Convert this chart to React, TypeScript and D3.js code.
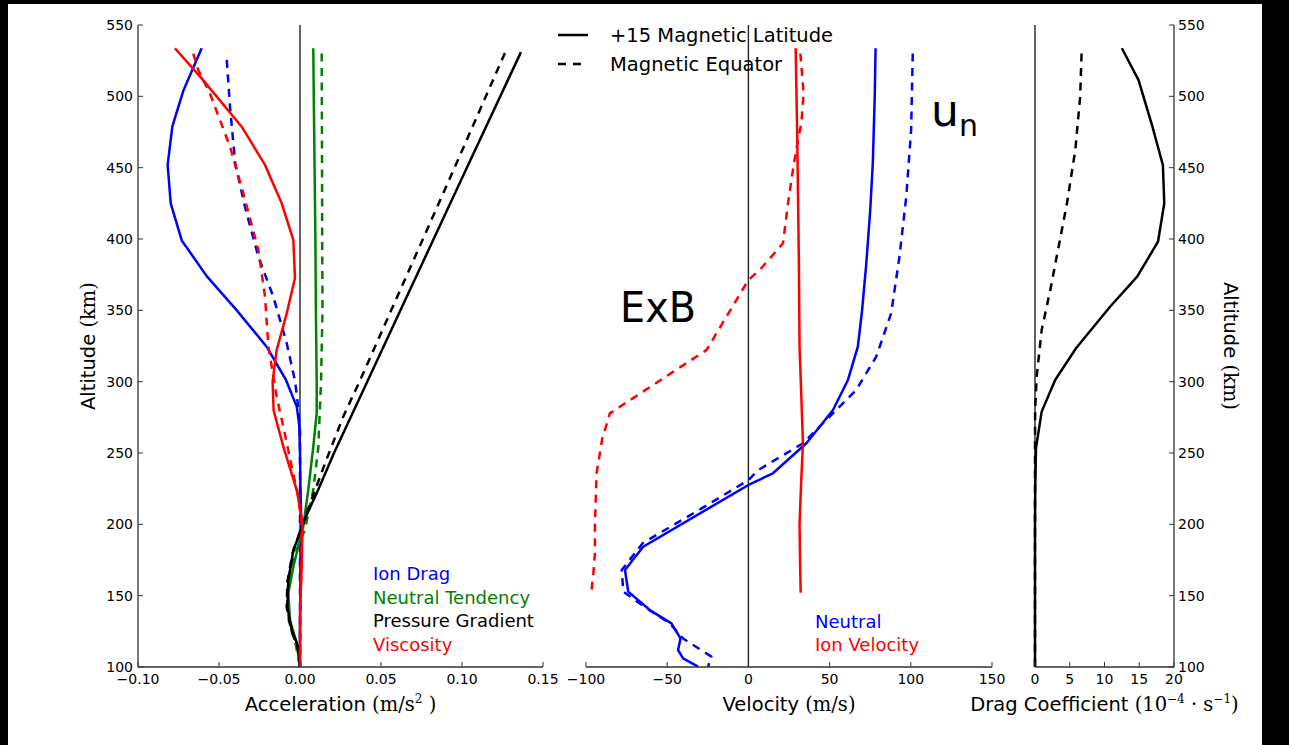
import React from "react";
import * as d3 from "d3";

const W = 1289;
const H = 745;

// ---- data: [altitude km, value] ----
// Acceleration terms (m/s^2)
const ionDragLat: [number, number][] = [
  [533.7, -0.0607], [504, -0.072], [479, -0.0788], [452, -0.0817], [425, -0.0798],
  [399, -0.073], [374, -0.0576], [350, -0.039], [324.5, -0.0206], [301, -0.0086],
  [282.5, -0.002], [270, -0.0005], [250, 0], [225, 0.0003], [200, 0.0008],
  [175, 0.0005], [150, 0.0002], [125, 0], [100, 0],
];
const ionDragEq: [number, number][] = [
  [525.5, -0.0452], [492.7, -0.0432], [453, -0.04], [422.6, -0.034], [387.6, -0.0257],
  [359.6, -0.0165], [327, -0.0082], [300, -0.003], [281, -0.001], [265, 0],
  [200, 0], [150, 0], [100, 0],
];
const neutralTendLat: [number, number][] = [
  [533.7, 0.0082], [500, 0.0085], [450, 0.009], [400, 0.0095], [350, 0.0098],
  [301, 0.0103], [278, 0.0103], [254.4, 0.0082], [224, 0.0051], [198.4, 0.002],
  [185, -0.001], [170.3, -0.0041], [151.7, -0.0072], [132.9, -0.0062], [116.6, -0.002], [100, 0],
];
const neutralTendEq: [number, number][] = [
  [530, 0.0134], [450, 0.0136], [400, 0.0137], [350, 0.0139], [301, 0.013],
  [254, 0.0113], [224, 0.0082], [196, 0.003], [180, -0.003], [165, -0.0065],
  [150, -0.008], [132, -0.0068], [115, -0.0025], [100, 0],
];
const pressureLat: [number, number][] = [
  [531, 0.1364], [450, 0.103], [400, 0.0825], [350, 0.062], [300, 0.0415],
  [278, 0.0325], [250, 0.021], [225, 0.0115], [205, 0.0035], [194, 0],
  [182, -0.0041], [161, -0.0072], [142, -0.0078], [126, -0.0051], [114, -0.001], [100, 0],
];
const pressureEq: [number, number][] = [
  [530.4, 0.1265], [450, 0.0954], [400, 0.0759], [350, 0.0563], [300, 0.0367],
  [275.5, 0.0267], [245, 0.0162], [220, 0.008], [200, 0.0015], [195, 0],
  [180, -0.0045], [160, -0.0078], [142, -0.0082], [126, -0.0055], [114, -0.0015], [100, 0],
];
const viscosityLat: [number, number][] = [
  [533.7, -0.0772], [512.6, -0.0607], [478.7, -0.036], [451.9, -0.0216], [425, -0.0113],
  [399.3, -0.0041], [372.5, -0.0031], [347.9, -0.0082], [322.2, -0.0144], [300, -0.0169],
  [280, -0.0163], [254.4, -0.0103], [224, -0.002], [200.7, 0.0016], [170, 0.001],
  [138, 0], [100, 0],
];
const viscosityEq: [number, number][] = [
  [530, -0.0659], [518.5, -0.0628], [502, -0.0556], [464.7, -0.0432], [432, -0.035],
  [392.3, -0.0257], [359.6, -0.0216], [324.5, -0.0195], [289.5, -0.0144], [268.4, -0.0103],
  [240.4, -0.0051], [219.4, -0.001], [200, 0.001], [170, 0.0008], [140, 0.0002], [100, 0],
];

// Velocities (m/s)
const neutralLat: [number, number][] = [
  [533.7, 78.3], [500, 77.8], [453, 76.6], [420, 75], [383, 72.6], [350, 70],
  [324.5, 67.4], [301.2, 61.3], [280, 52], [256.8, 35.7], [235.8, 15.1], [227.6, 0],
  [184.3, -64.8], [168, -76], [152.8, -74], [139.9, -60.7], [130.6, -47.4],
  [120, -41.8], [111.9, -43.3], [106, -40.2], [100.2, -31],
];
const neutralEq: [number, number][] = [
  [530, 101.2], [476.4, 100.2], [429.7, 97.2], [387.6, 93], [347.9, 87.9],
  [317.5, 78.7], [294.2, 66.4], [277.8, 52], [256.8, 33.6], [238, 6], [231, 0],
  [212.4, -27], [186.9, -65], [168, -78], [152.8, -77], [141.2, -62.7],
  [130.6, -48.4], [120, -40.2], [107.3, -22.8], [100.2, -24.8],
];
const ionVelLat: [number, number][] = [
  [533.7, 29.1], [469.4, 30.1], [383, 31.1], [324.5, 31.5], [256.8, 33.6],
  [230, 32.5], [200, 31.5], [175, 31.8], [152, 32.2],
];
const ionVelEq: [number, number][] = [
  [530, 32], [502, 34], [481, 32.6], [469.4, 30.5], [448.4, 27.4], [425, 24.4],
  [397, 21.3], [378.3, 7], [371.3, 0], [322.2, -25.8], [277.8, -85.3], [260, -90],
  [235.8, -93.5], [200, -94.5], [179.7, -94.5], [165, -95.5], [154, -96.6],
];

// Drag coefficient (10^-4 s^-1)
const dragLat: [number, number][] = [
  [533.7, 12.5], [511.4, 14.9], [478.7, 16.9], [451.9, 18.4], [425, 18.6],
  [398.1, 17.7], [373.6, 14.7], [352.5, 10.8], [323.4, 5.9], [301.2, 2.9],
  [279, 0.96], [253.3, 0.14], [225, 0.03], [200, 0], [150, 0], [100, 0],
];
const dragEq: [number, number][] = [
  [530, 6.7], [499.7, 6.5], [462.4, 5.8], [425, 4.6], [394.6, 3.4], [364.3, 2.2],
  [336.2, 0.96], [303.5, 0.24], [280, 0.02], [250, 0], [200, 0], [150, 0], [100, 0],
];

// ---- axes ----
const altTicks = [100, 150, 200, 250, 300, 350, 400, 450, 500, 550];
const accTicks = [-0.1, -0.05, 0, 0.05, 0.1, 0.15];
const velTicks = [-100, -50, 0, 50, 100, 150];
const dragTicks = [0, 5, 10, 15, 20];

const BLUE = "#0000ff";
const GREEN = "#008000";
const RED = "#ff0000";
const BLACK = "#000000";
const SPINE = "#333333";
const SANS = "DejaVu Sans, sans-serif";
const SERIF = "DejaVu Serif, serif";
const DASH = "8,6.5";

const TOP = 25;
const BOTTOM = 667;

type Series = { data: [number, number][]; color: string; dashed: boolean };

export default function App() {
  const y = d3.scaleLinear().domain([100, 550]).range([BOTTOM, TOP]);
  const xAcc = d3.scaleLinear().domain([-0.1, 0.15]).range([138, 543]);
  const xVel = d3.scaleLinear().domain([-100, 150]).range([586, 992]);
  const xDrag = d3.scaleLinear().domain([0, 20]).range([1035, 1174]);

  const fmtAcc = d3.format(".2f");
  const fmtInt = d3.format("d");

  const path = (sx: d3.ScaleLinear<number, number>, data: [number, number][]) =>
    d3
      .line<[number, number]>()
      .x((d) => sx(d[1]))
      .y((d) => y(d[0]))(data) || "";

  const accSeries: Series[] = [
    { data: ionDragLat, color: BLUE, dashed: false },
    { data: ionDragEq, color: BLUE, dashed: true },
    { data: neutralTendLat, color: GREEN, dashed: false },
    { data: neutralTendEq, color: GREEN, dashed: true },
    { data: pressureLat, color: BLACK, dashed: false },
    { data: pressureEq, color: BLACK, dashed: true },
    { data: viscosityLat, color: RED, dashed: false },
    { data: viscosityEq, color: RED, dashed: true },
  ];
  const velSeries: Series[] = [
    { data: neutralLat, color: BLUE, dashed: false },
    { data: neutralEq, color: BLUE, dashed: true },
    { data: ionVelLat, color: RED, dashed: false },
    { data: ionVelEq, color: RED, dashed: true },
  ];
  const dragSeries: Series[] = [
    { data: dragLat, color: BLACK, dashed: false },
    { data: dragEq, color: BLACK, dashed: true },
  ];

  const bottomAxis = (
    sx: d3.ScaleLinear<number, number>,
    ticks: number[],
    fmt: (n: number) => string
  ) => (
    <g>
      <line x1={sx.range()[0]} x2={sx.range()[1]} y1={BOTTOM} y2={BOTTOM} stroke={SPINE} strokeWidth={1.3} />
      {ticks.map((t) => (
        <g key={t}>
          <line x1={sx(t)} x2={sx(t)} y1={BOTTOM} y2={BOTTOM - 5} stroke={SPINE} strokeWidth={1} />
          <text x={sx(t)} y={BOTTOM + 17} textAnchor="middle" fontSize={14} fontFamily={SANS} fill="#000">
            {fmt(t)}
          </text>
        </g>
      ))}
    </g>
  );

  const lines = (sx: d3.ScaleLinear<number, number>, series: Series[]) =>
    series.map((s, i) => (
      <path
        key={i}
        d={path(sx, s.data)}
        fill="none"
        stroke={s.color}
        strokeWidth={2.5}
        strokeDasharray={s.dashed ? DASH : undefined}
        strokeLinejoin="round"
      />
    ));

  return (
    <div style={{ position: "absolute", left: 0, top: 0, width: W, height: H }}>
      <svg width={W} height={H} viewBox={`0 0 ${W} ${H}`} style={{ display: "block", background: "#fff" }}>
        <rect x={0} y={0} width={W} height={H} fill="#fff" />

        {/* zero reference lines */}
        <line x1={xAcc(0)} x2={xAcc(0)} y1={TOP} y2={BOTTOM} stroke="#222" strokeWidth={1.4} />
        <line x1={xVel(0)} x2={xVel(0)} y1={TOP} y2={BOTTOM} stroke="#222" strokeWidth={1.4} />
        <line x1={xDrag(0)} x2={xDrag(0)} y1={TOP} y2={BOTTOM} stroke="#222" strokeWidth={1.4} />

        {/* panel 1: accelerations */}
        {lines(xAcc, accSeries)}
        <line x1={138} x2={138} y1={TOP} y2={BOTTOM} stroke={SPINE} strokeWidth={1.3} />
        {altTicks.map((t) => (
          <g key={t}>
            <line x1={138} x2={143} y1={y(t)} y2={y(t)} stroke={SPINE} strokeWidth={1} />
            <text x={133} y={y(t) + 5} textAnchor="end" fontSize={14} fontFamily={SANS}>
              {fmtInt(t)}
            </text>
          </g>
        ))}
        {bottomAxis(xAcc, accTicks, fmtAcc)}
        <text x={340.5} y={711} textAnchor="middle" fontSize={19.5} fontFamily={SANS}>
          Acceleration{" "}
          <tspan fontFamily={SERIF}>(m/s</tspan>
          <tspan fontFamily={SERIF} fontSize={12} dy={-8}>2</tspan>
          <tspan fontFamily={SERIF} dy={8}> )</tspan>
        </text>
        <text transform={`translate(95,${(TOP + BOTTOM) / 2}) rotate(-90)`} textAnchor="middle" fontSize={19.5} fontFamily={SANS}>
          Altitude <tspan fontFamily={SERIF}>(km)</tspan>
        </text>
        <g fontSize={18} fontFamily={SANS}>
          <text x={373} y={580} fill={BLUE}>Ion Drag</text>
          <text x={373} y={604} fill={GREEN}>Neutral Tendency</text>
          <text x={373} y={627} fill={BLACK}>Pressure Gradient</text>
          <text x={373} y={651} fill={RED}>Viscosity</text>
        </g>

        {/* panel 2: velocities */}
        {lines(xVel, velSeries)}
        {bottomAxis(xVel, velTicks, fmtInt)}
        <text x={789} y={711} textAnchor="middle" fontSize={19.5} fontFamily={SANS}>
          Velocity <tspan fontFamily={SERIF}>(m/s)</tspan>
        </text>
        <g fontSize={18} fontFamily={SANS}>
          <text x={815} y={628} fill={BLUE}>Neutral</text>
          <text x={815} y={651} fill={RED}>Ion Velocity</text>
        </g>
        <text x={620} y={322} fontSize={42} fontFamily={SANS} textLength={76} lengthAdjust="spacingAndGlyphs">
          ExB
        </text>
        <text x={931} y={126} fontSize={44} fontFamily={SANS}>
          u<tspan fontSize={30} dy={10}>n</tspan>
        </text>

        {/* panel 3: drag coefficient */}
        {lines(xDrag, dragSeries)}
        <line x1={1174} x2={1174} y1={TOP} y2={BOTTOM} stroke={SPINE} strokeWidth={1.3} />
        {altTicks.map((t) => (
          <g key={t}>
            <line x1={1169} x2={1174} y1={y(t)} y2={y(t)} stroke={SPINE} strokeWidth={1} />
            <text x={1178} y={y(t) + 5} textAnchor="start" fontSize={14} fontFamily={SANS}>
              {fmtInt(t)}
            </text>
          </g>
        ))}
        {bottomAxis(xDrag, dragTicks, fmtInt)}
        <text x={1104.5} y={711} textAnchor="middle" fontSize={19.5} fontFamily={SANS}>
          Drag Coefficient{" "}
          <tspan fontFamily={SERIF}>(10</tspan>
          <tspan fontFamily={SERIF} fontSize={12} dy={-8}>−4</tspan>
          <tspan fontFamily={SERIF} dy={8}> · s</tspan>
          <tspan fontFamily={SERIF} fontSize={12} dy={-8}>−1</tspan>
          <tspan fontFamily={SERIF} dy={8}>)</tspan>
        </text>
        <text transform={`translate(1224,${(TOP + BOTTOM) / 2}) rotate(90)`} textAnchor="middle" fontSize={19.5} fontFamily={SANS}>
          Altitude <tspan fontFamily={SERIF}>(km)</tspan>
        </text>

        {/* legend */}
        <line x1={558} x2={588} y1={35} y2={35} stroke={BLACK} strokeWidth={2.5} />
        <line x1={558} x2={588} y1={64} y2={64} stroke={BLACK} strokeWidth={2.5} strokeDasharray="8,7" />
        <text x={610} y={42} fontSize={19.5} fontFamily={SANS}>+15 Magnetic Latitude</text>
        <text x={610} y={71} fontSize={19.5} fontFamily={SANS}>Magnetic Equator</text>

        {/* frame edges */}
        <rect x={0} y={0} width={W} height={4} fill="#000" />
        <rect x={0} y={0} width={8} height={H} fill="#000" />
        <rect x={1262} y={0} width={W - 1262} height={H} fill="#000" />
      </svg>
    </div>
  );
}
